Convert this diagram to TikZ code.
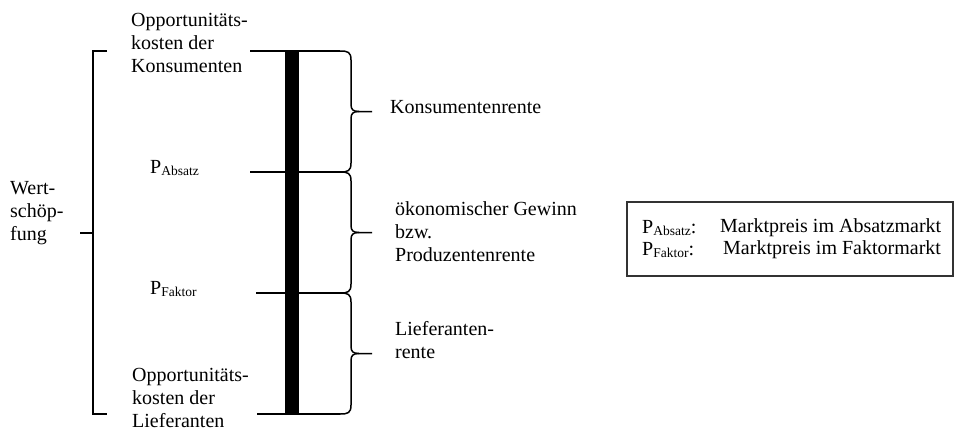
\documentclass[tikz,border=0pt]{standalone}
\usepackage{fontspec}
\setmainfont{Liberation Serif}
\newcommand{\Psub}[1]{P\raisebox{-2.5pt}{\fontsize{13.5}{14}\selectfont #1}}
\begin{document}
\begin{tikzpicture}[x=1pt,y=-1pt,
  txt/.style={inner sep=0pt,align=left,anchor=west,font=\fontsize{20}{23}\selectfont},
  ln/.style={line width=1.5pt,black},
  brace/.style={line width=1.5pt,black},
  legendbox/.style={draw=black!80,line width=1.3pt}]
\useasboundingbox (0,0) rectangle (955,431);
% left bracket
\coordinate (bt) at (93,51);
\coordinate (bb) at (93,414);
\coordinate (bm) at (93,233);
\draw[ln] (107,51) -- (bt) -- (bb) -- (107,414);
\draw[ln] (80,233) -- (bm);
% horizontal levels
\coordinate (l1) at (250,51);
\coordinate (l2) at (250,172);
\coordinate (l3) at (256,293);
\coordinate (l4) at (257,414);
\coordinate (r1) at (340,51);
\coordinate (r2) at (340,172);
\coordinate (r3) at (340,293);
\coordinate (r4) at (340,414);
\draw[ln] (l1) -- (r1);
\draw[ln] (l2) -- (r2);
\draw[ln] (l3) -- (r3);
\draw[ln] (l4) -- (r4);
% braces
\foreach \yt/\yb in {51/172,172/293,293/414}{
  \pgfmathsetmacro{\ym}{(\yt+\yb)/2}
  \draw[brace] (340,\yt) .. controls (348,\yt) and (351,\yt+1) .. (351,\yt+9)
     -- (351,\ym-7) .. controls (351,\ym-2) and (353,\ym) .. (359,\ym) -- (372,\ym);
  \draw[brace] (359,\ym) .. controls (353,\ym) and (351,\ym+2) .. (351,\ym+7)
     -- (351,\yb-9) .. controls (351,\yb-1) and (348,\yb) .. (340,\yb);
}
% thick bar
\fill[black] (285,51) rectangle (299,414);
% texts
\node[txt] (op1) at (131,43) {Opportunitäts-\\kosten der\\Konsumenten};
\node[txt] (pabs) at (150,168) {\Psub{Absatz}};
\node[txt] (pfak) at (150,289) {\Psub{Faktor}};
\node[txt] (op2) at (132,398) {Opportunitäts-\\kosten der\\Lieferanten};
\node[txt] (wert) at (10,213) {Wert-\\schöp-\\fung};
\node[txt] (kr) at (390,107) {Konsumentenrente};
\node[txt] (gew) at (395,232) {ökonomischer Gewinn\\bzw.\\Produzentenrente};
\node[txt] (lief) at (395,340) {Lieferanten-\\rente};
% legend
\draw[legendbox] (627,202) rectangle (953,276);
\node[txt] (la) at (642,228) {\Psub{Absatz}:};
\node[txt] (ma) at (720,228) {Marktpreis im Absatzmarkt};
\node[txt] (lf) at (642,250) {\Psub{Faktor}:};
\node[txt] (mf) at (723,250) {Marktpreis im Faktormarkt};
\end{tikzpicture}
\end{document}
